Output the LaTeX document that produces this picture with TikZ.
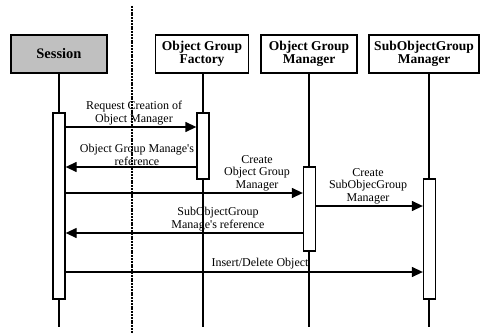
\documentclass[tikz,border=0pt]{standalone}
\usepackage{fontspec}
\setmainfont{Liberation Serif}
\usetikzlibrary{arrows.meta}
\definecolor{boxgray}{RGB}{192,192,192}
\begin{document}
\begin{tikzpicture}[x=1pt,y=-1pt,
  objbox/.style={draw,line width=1.6pt,minimum width=#1,minimum height=38pt,inner sep=0pt,
    align=center,font=\fontsize{13.5}{13}\selectfont\bfseries},
  lifeline/.style={line width=1.3pt},
  actbox/.style={draw,fill=white,line width=1.3pt,minimum width=12pt,minimum height=#1,inner sep=0pt},
  msg/.style={line width=1.3pt,-{Triangle[length=11pt,width=10pt]}},
  lbl/.style={align=center,font=\fontsize{12}{12.8}\selectfont,inner sep=0.5pt,anchor=south}]
\useasboundingbox (0,0) rectangle (481,334);

% separator between the session and the object-group side
\draw[line width=2.6pt,dash pattern=on 2pt off 0.8pt] (132,6) -- (132,334);

% objects
\node[objbox=96pt,fill=boxgray] (s) at (59,54) {\fontsize{14.5}{14}\selectfont Session};
\node[objbox=93pt] (f) at (202,54) {Object Group\\Factory};
\node[objbox=96pt] (m) at (309,54) {Object Group\\Manager};
\node[objbox=110pt] (g) at (424,54) {SubObjectGroup\\Manager};

% lifeline ends
\coordinate (se) at (59,327);
\coordinate (fe) at (203,327);
\coordinate (me) at (309,327);
\coordinate (ge) at (429,327);

\draw[lifeline] (s.south -| se) -- (se);
\draw[lifeline] (203,73) -- (fe);
\draw[lifeline] (m.south -| me) -- (me);
\draw[lifeline] (429,73) -- (ge);

% activations
\node[actbox=186pt] (sa) at (59,206) {};
\node[actbox=66pt]  (fa) at (203,146) {};
\node[actbox=84pt]  (ma) at (309.5,209) {};
\node[actbox=120pt] (ga) at (429.5,239) {};

% messages
\draw[msg] (sa.east |- 0,127) -- (fa.west |- 0,127);
\node[lbl] (l1) at (134,126) {Request Creation of\\Object Manager};

\draw[msg] (fa.west |- 0,167) -- (sa.east |- 0,167);
\node[lbl] (l2) at (137,166) {Object Group Manage\textquotesingle s\\reference};

\draw[msg] (sa.east |- 0,193) -- (ma.west |- 0,193);
\node[lbl] (l3) at (257,192) {Create\\Object Group\\Manager};

\draw[msg] (ma.east |- 0,206) -- (ga.west |- 0,206);
\node[lbl] (l4) at (368,205) {Create\\SubObjecGroup\\Manager};

\draw[msg] (ma.west |- 0,233) -- (sa.east |- 0,233);
\node[lbl] (l5) at (218,232) {SubObjectGroup\\Manage\textquotesingle s reference};

\draw[msg] (sa.east |- 0,272) -- (ga.west |- 0,272);
\node[lbl] (l6) at (260,270) {Insert/Delete Object};
\end{tikzpicture}
\end{document}
